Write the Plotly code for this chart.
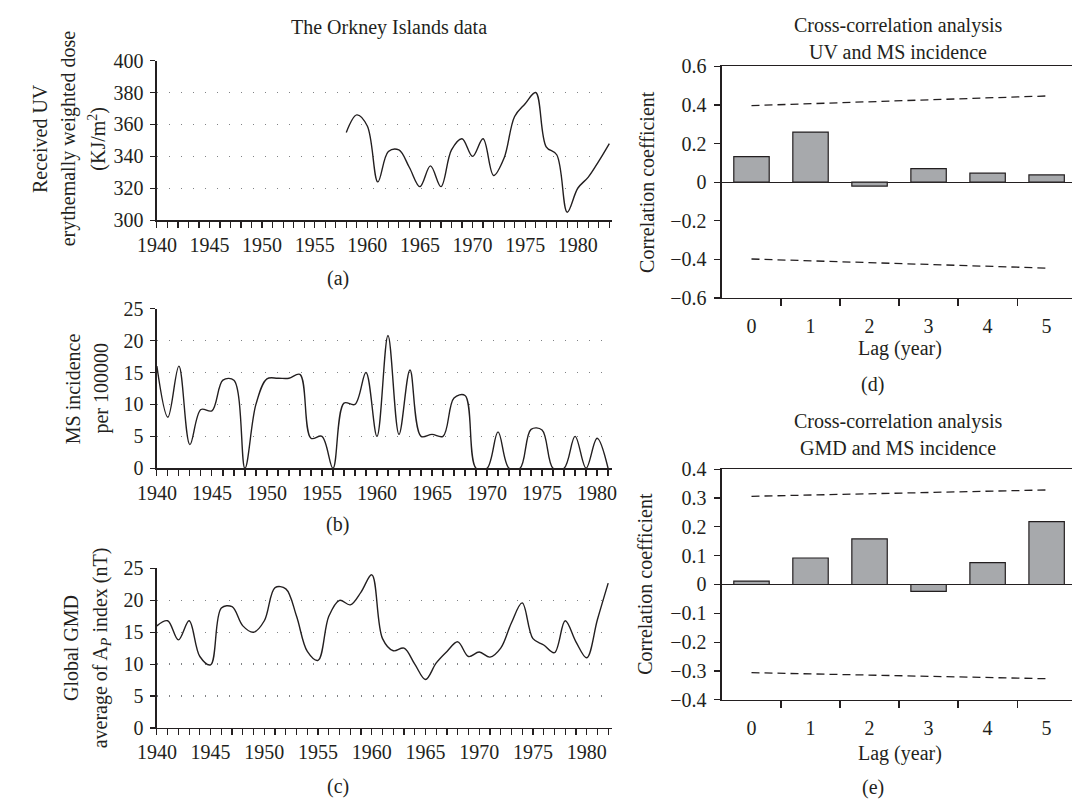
import plotly.graph_objects as go

# ---------------- data ----------------
uv_years = list(range(1958, 1984))
uv_dose = [355, 366, 359, 324, 343, 344, 333, 321, 334, 321, 344, 351, 340,
           351, 328, 339, 365, 373, 380, 346, 341, 305, 320, 327, 337, 348]

ms_years = list(range(1940, 1982))
ms_incidence = [16, 8, 16, 3.7, 9.2, 9, 13.8, 13.8, 0, 10, 14, 14.1, 14.1, 14.7,
                4.7, 5.0, 0, 10.2, 10, 15, 5, 20.8, 5.3, 15.4, 5, 5.3, 5, 11,
                11.4, 0, 0, 5.7, 0, 0, 6.1, 6.0, 0, 0, 5.0, 0, 4.7, 0]

gmd_years = list(range(1940, 1983))
gmd_ap = [16, 16.8, 13.8, 16.8, 11.2, 9.9, 18.8, 19, 16, 15, 16.8, 22, 21.8,
          17.5, 12, 10.6, 17.5, 20, 19.3, 21.3, 24, 14, 12.1, 12.5, 10, 7.6,
          10.2, 12, 13.5, 11.2, 11.9, 11.1, 12.5, 16.5, 19.6, 14, 13, 11.8,
          16.8, 13.5, 11, 17, 22.7]

lags = [0, 1, 2, 3, 4, 5]
lag_labels = ["0", "1", "2", "3", "4", "5"]
uv_ms_corr = [0.133, 0.26, -0.02, 0.07, 0.047, 0.038]
uv_ms_upper = [0.397, 0.407, 0.417, 0.427, 0.437, 0.447]
uv_ms_lower = [-0.398, -0.407, -0.417, -0.426, -0.436, -0.445]

gmd_ms_corr = [0.012, 0.092, 0.158, -0.024, 0.076, 0.218]
gmd_ms_upper = [0.306, 0.310, 0.315, 0.319, 0.324, 0.328]
gmd_ms_lower = [-0.306, -0.310, -0.314, -0.318, -0.323, -0.327]

# ---------------- style ----------------
W, H = 1076, 810
INK = "#231f20"
GRID = "#808285"
BARFILL = "#a7a9ac"
FONT = "Liberation Serif"
TICKSIZE = 20
LABELSIZE = 20


def px(x):
    return x / W


def py(y):
    return 1 - y / H


def left_x(end, anchor):
    return dict(domain=[px(140), px(606)], anchor=anchor, range=[1940, end],
                tick0=1940, dtick=5, ticks="outside", ticklen=6, tickwidth=1.2,
                tickcolor=INK,
                minor=dict(tick0=1940, dtick=1, ticks="outside", ticklen=6,
                           tickwidth=1.2, tickcolor=INK, showgrid=False),
                showline=True, linecolor=INK, linewidth=1.5, showgrid=False,
                zeroline=False, tickfont=dict(size=TICKSIZE, color=INK, family=FONT))


def left_y(top, bottom, rng, dtick, anchor):
    return dict(domain=[py(bottom), py(top)], anchor=anchor, range=rng,
                tick0=rng[0], dtick=dtick, ticks="outside", ticklen=5,
                tickwidth=1.2, tickcolor=INK, showline=True, linecolor=INK,
                linewidth=1.5, showgrid=True, gridcolor=GRID, gridwidth=1.5,
                griddash="1.5px,10.5px", zeroline=False, ticklabelstandoff=3,
                tickfont=dict(size=TICKSIZE, color=INK, family=FONT))


def right_x(anchor):
    return dict(domain=[px(718), 1.0], anchor=anchor, range=[-0.5, 5.43],
                tickmode="array", tickvals=lags, ticktext=lag_labels, ticks="",
                ticklabelstandoff=10,
                minor=dict(tickmode="array", tickvals=[0.5, 1.5, 2.5, 3.5, 4.5],
                           ticks="outside", ticklen=7, tickwidth=1.2,
                           tickcolor=INK, showgrid=False),
                showline=True, mirror=True, linecolor=INK, linewidth=1.5,
                showgrid=False, zeroline=False,
                tickfont=dict(size=TICKSIZE, color=INK, family=FONT))


def right_y(top, bottom, rng, dtick, anchor):
    return dict(domain=[py(bottom), py(top)], anchor=anchor, range=rng,
                tick0=0, dtick=dtick, ticks="outside", ticklen=6, tickwidth=1.2,
                tickcolor=INK, showline=True, linecolor=INK, linewidth=1.5,
                showgrid=False, zeroline=True, zerolinecolor=INK,
                zerolinewidth=1.3, ticklabelstandoff=4,
                tickfont=dict(size=TICKSIZE, color=INK, family=FONT))


fig = go.Figure()

line_style = dict(color=INK, width=1.4, shape="spline", smoothing=1.0)

fig.add_trace(go.Scatter(x=uv_years, y=uv_dose, mode="lines", line=line_style,
                         xaxis="x", yaxis="y"))
fig.add_trace(go.Scatter(x=ms_years, y=ms_incidence, mode="lines", line=line_style,
                         xaxis="x2", yaxis="y2"))
fig.add_trace(go.Scatter(x=gmd_years, y=gmd_ap, mode="lines", line=line_style,
                         xaxis="x3", yaxis="y3"))

bar_marker = dict(color=BARFILL, line=dict(color=INK, width=1.2))
dash_line = dict(color=INK, width=1.3, dash="8px,5px")

fig.add_trace(go.Bar(x=lags, y=uv_ms_corr, width=0.6, marker=bar_marker,
                     xaxis="x4", yaxis="y4"))
fig.add_trace(go.Scatter(x=lags, y=uv_ms_upper, mode="lines", line=dash_line,
                         xaxis="x4", yaxis="y4"))
fig.add_trace(go.Scatter(x=lags, y=uv_ms_lower, mode="lines", line=dash_line,
                         xaxis="x4", yaxis="y4"))

fig.add_trace(go.Bar(x=lags, y=gmd_ms_corr, width=0.6, marker=bar_marker,
                     xaxis="x5", yaxis="y5"))
fig.add_trace(go.Scatter(x=lags, y=gmd_ms_upper, mode="lines", line=dash_line,
                         xaxis="x5", yaxis="y5"))
fig.add_trace(go.Scatter(x=lags, y=gmd_ms_lower, mode="lines", line=dash_line,
                         xaxis="x5", yaxis="y5"))

annotations = []


def add_text(text, x, y, angle=0, size=LABELSIZE):
    annotations.append(dict(text=text, x=px(x), y=py(y), xref="paper",
                            yref="paper", xanchor="center", yanchor="middle",
                            showarrow=False, textangle=angle,
                            font=dict(family=FONT, size=size, color=INK)))


# titles
add_text("The Orkney Islands data", 377, 17)
add_text("Cross-correlation analysis", 898, 15)
add_text("UV and MS incidence", 898, 42)
add_text("Cross-correlation analysis", 898, 422)
add_text("GMD and MS incidence", 898, 449)

# y-axis titles (left)
add_text("Received UV", 21, 131, -90)
add_text("erythemally weighted dose", 50, 131, -90)
add_text("(KJ/m<sup>2</sup>)", 79, 131, -90)
add_text("MS incidence", 55, 388, -90)
add_text("per 100000", 83, 388, -90)
add_text("Global GMD", 52, 655, -90)
add_text("average of A<sub><i>P</i></sub> index (nT)", 83, 655, -90)

# y-axis titles (right)
add_text("Correlation coefficient", 642, 176, -90)
add_text("Correlation coefficient", 639, 589, -90)

# x-axis titles (right)
add_text("Lag (year)", 900, 347)
add_text("Lag (year)", 900, 763)

# panel labels
add_text("(a)", 325, 275)
add_text("(b)", 325, 528)
add_text("(c)", 325, 797)
add_text("(d)", 872, 384)
add_text("(e)", 872, 798)

fig.update_layout(
    width=W, height=H,
    margin=dict(l=0, r=0, t=0, b=0),
    paper_bgcolor="white", plot_bgcolor="white",
    showlegend=False,
    hovermode=False,
    font=dict(family=FONT, color=INK),
    xaxis=left_x(1983.3, "y"),
    yaxis=left_y(51, 215, [300, 400], 20, "x"),
    xaxis2=left_x(1981.4, "y2"),
    yaxis2=left_y(306, 470, [0, 25], 5, "x2"),
    xaxis3=left_x(1982.4, "y3"),
    yaxis3=left_y(573, 737, [0, 25], 5, "x3"),
    xaxis4=right_x("y4"),
    yaxis4=right_y(57, 295, [-0.6, 0.6], 0.2, "x4"),
    xaxis5=right_x("y5"),
    yaxis5=right_y(471, 708, [-0.4, 0.4], 0.1, "x5"),
    annotations=annotations,
    bargap=0.4,
)

# place the figure flush with the window's top-left corner, no mode bar
fig.write_html(
    "out.html",
    config={"displayModeBar": False, "staticPlot": True},
    post_script="document.body.style.margin='0px';"
                "document.body.style.overflow='hidden';",
)
